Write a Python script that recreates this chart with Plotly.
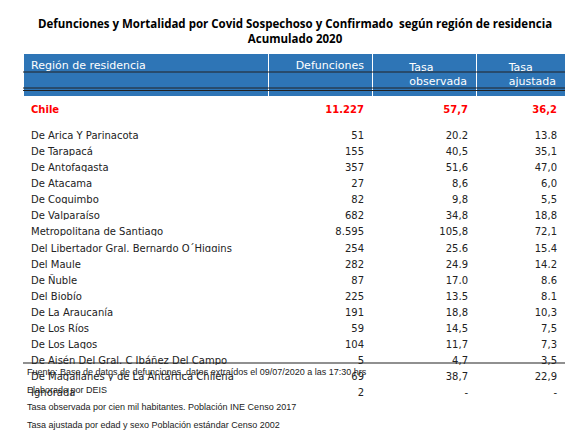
import plotly.graph_objects as go

regions = ["Chile", "De Arica Y Parinacota", "De Tarapacá", "De Antofagasta", "De Atacama", "De Coquimbo",
           "De Valparaíso", "Metropolitana de Santiago", "Del Libertador Gral. Bernardo O´Higgins", "Del Maule",
           "De Ñuble", "Del Biobío", "De La Araucanía", "De Los Ríos", "De Los Lagos",
           "De Aisén Del Gral. C Ibáñez Del Campo", "De Magallanes y de La Antártica Chilena", "Ignorada"]
defunciones = ["11.227", "51", "155", "357", "27", "82", "682", "8.595", "254", "282", "87", "225", "191", "59", "104", "5", "69", "2"]
tasa_obs = ["57,7", "20,2", "40,5", "51,6", "8,6", "9,8", "34,8", "105,8", "25,6", "24,9", "17,0", "13,5", "18,8", "14,5", "11,7", "4,7", "38,7", "-"]
tasa_aj = ["36,2", "13,8", "35,1", "47,0", "6,0", "5,5", "18,8", "72,1", "15,4", "14,2", "8,6", "8,1", "10,3", "7,5", "7,3", "3,5", "22,9", "-"]
headers = ["Región de residencia", "Defunciones", "Tasa observada", "Tasa ajustada"]
footnotes = ["Fuente: Base de datos de defunciones, datos extraídos el 09/07/2020 a las 17:30 hrs",
             "Elaborado por DEIS",
             "Tasa observada por cien mil habitantes. Población INE Censo 2017",
             "Tasa ajustada por edad y sexo Población estándar Censo 2002"]

W, H = 573, 440
def bold_first(col):
    return ["<b>%s</b>" % v if i == 0 else v for i, v in enumerate(col)]
cols = [bold_first(regions), bold_first(defunciones), bold_first(tasa_obs), bold_first(tasa_aj)]
n = len(regions)
colors = [["#FF0000"] + ["#222222"] * (n - 1)] * 4

x0, x1 = 15, 557
top = 45
fig = go.Figure(go.Table(
    domain=dict(x=[x0 / W, x1 / W], y=[0, 1 - top / H]),
    columnwidth=[245, 104, 104, 89],
    header=dict(values=headers, fill_color="#2E75B6", line=dict(color="white", width=1),
                font=dict(color="white", size=11, family="DejaVu Sans"),
                align=["left", "right", "right", "right"], height=19),
    cells=dict(values=cols, fill_color="white", line=dict(color="white", width=0),
               font=dict(color=colors, size=10, family="DejaVu Sans"),
               align=["left", "right", "right", "right"], height=16.1),
))

def hline(ypx, w=1, c="#222"):
    fig.add_shape(type="line", xref="paper", yref="paper", x0=x0 / W, x1=x1 / W,
                  y0=1 - ypx / H, y1=1 - ypx / H, line=dict(color=c, width=w))
hline(64, 1.2)
hline(80, 1)
hline(82.5, 1)
hline(355, 1.2)

fig.add_annotation(text="<b>Defunciones y Mortalidad por Covid Sospechoso y Confirmado  según región de residencia</b><br><b>Acumulado 2020</b>",
                   x=0.5, y=1 - 6 / H, xref="paper", yref="paper", xanchor="center", yanchor="top",
                   showarrow=False, font=dict(size=11.5, family="Open Sans", color="black"))
for i, t in enumerate(footnotes):
    fig.add_annotation(text=t, x=17 / W, y=1 - (364 + 17.5 * i) / H, xref="paper", yref="paper",
                       xanchor="left", yanchor="middle", showarrow=False,
                       font=dict(size=9, family="Liberation Sans", color="#222"))

fig.update_layout(width=W, height=H, margin=dict(l=0, r=0, t=0, b=0), separators=",.",
                  paper_bgcolor="white", plot_bgcolor="white")
fig.write_html("out.html")
